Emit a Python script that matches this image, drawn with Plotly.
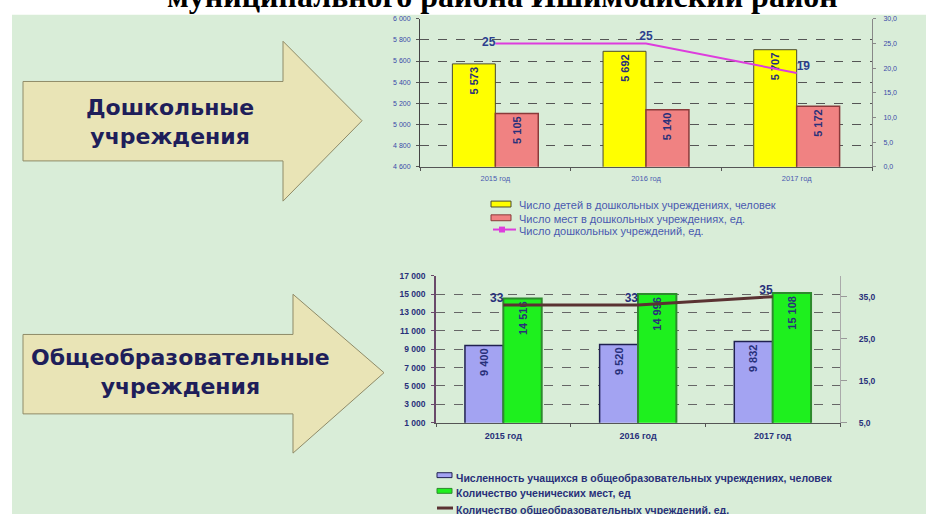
import plotly.graph_objects as go

W, H = 926, 514

years = ["2015 год", "2016 год", "2017 год"]
preschool_children = [5573, 5692, 5707]
preschool_places = [5105, 5140, 5172]
preschool_count = [25, 25, 19]
school_students = [9400, 9520, 9832]
school_places = [14516, 14996, 15108]
school_count = [33, 33, 35]

legend_top = [
    "Число детей в дошкольных учреждениях, человек",
    "Число мест в дошкольных учреждениях, ед.",
    "Число дошкольных учреждений, ед.",
]
legend_bottom = [
    "Численность учащихся в общеобразовательных учреждениях, человек",
    "Количество ученических мест, ед",
    "Количество общеобразовательных учреждений, ед.",
]

C_BG = "#d9edd8"
C_YELLOW = "#ffff00"
C_RED = "#f08282"
C_MAGENTA = "#dd3ddd"
C_BLUE = "#a3a3f2"
C_GREEN = "#1ef01e"
C_DARKLINE = "#5a3232"
C_LABEL = "#28307a"


def px(x):
    return x / W


def py(y):
    return 1 - y / H


fig = go.Figure()

bar_text_font = dict(family="Liberation Sans", size=11, color=C_LABEL, weight="bold")

# --- top chart (preschool) ---
fig.add_bar(x=years, y=preschool_children, xaxis="x", yaxis="y",
            marker=dict(color=C_YELLOW, line=dict(color="#4a4a30", width=1)),
            texttemplate="%{y:,}", textposition="inside", insidetextanchor="end",
            textangle=-90, textfont=bar_text_font, constraintext="none")
fig.add_bar(x=years, y=preschool_places, xaxis="x", yaxis="y",
            marker=dict(color=C_RED, line=dict(color="#8a3a3a", width=1.5)),
            texttemplate="%{y:,}", textposition="inside", insidetextanchor="end",
            textangle=-90, textfont=bar_text_font, constraintext="none")
fig.add_scatter(x=years, y=preschool_count, xaxis="x", yaxis="y2",
                mode="lines+text", line=dict(color=C_MAGENTA, width=2),
                text=[str(v) for v in preschool_count], texttemplate="%{text}",
                textposition=["middle left", "top center", "top right"],
                textfont=dict(family="Liberation Sans", size=12, color="#2b3f8f", weight="bold"))

# --- bottom chart (schools) ---
fig.add_bar(x=years, y=school_students, xaxis="x2", yaxis="y3",
            marker=dict(color=C_BLUE, line=dict(color="#202050", width=1.5)),
            texttemplate="%{y:,}", textposition="inside", insidetextanchor="end",
            textangle=-90, textfont=bar_text_font, constraintext="none")
fig.add_bar(x=years, y=school_places, xaxis="x2", yaxis="y3",
            marker=dict(color=C_GREEN, line=dict(color="#2e8a2e", width=2)),
            texttemplate="%{y:,}", textposition="inside", insidetextanchor="end",
            textangle=-90, textfont=bar_text_font, constraintext="none")
fig.add_scatter(x=years, y=school_count, xaxis="x2", yaxis="y4",
                mode="lines+text", line=dict(color=C_DARKLINE, width=3),
                text=[str(v) for v in school_count], texttemplate="%{text}",
                textposition="top left",
                textfont=dict(family="Liberation Sans", size=12, color=C_LABEL, weight="bold"))

small_tick = dict(family="Liberation Sans", size=7, color="#3a4aa8")
bold_tick = dict(family="Liberation Sans", size=8.5, color=C_LABEL, weight="bold")

shapes = []
annotations = []

# white page edges (top strip and left strip) over the mint slide background
shapes.append(dict(type="rect", xref="paper", yref="paper", x0=-0.02, x1=1.02, y0=py(10), y1=1.02,
                   fillcolor="white", line=dict(width=0), layer="below"))
shapes.append(dict(type="rect", xref="paper", yref="paper", x0=-0.02, x1=px(12), y0=-0.02, y1=1.02,
                   fillcolor="white", line=dict(width=0), layer="below"))


def arrow(pts):
    d = "M " + " L ".join(f"{px(a):.5f},{py(b):.5f}" for a, b in pts) + " Z"
    return dict(type="path", xref="paper", yref="paper", path=d,
                fillcolor="#e9e4b6", line=dict(color="#8f8b68", width=1), layer="above")


shapes.append(arrow([(23, 78), (283, 78), (283, 37), (362, 118), (283, 200), (283, 159), (23, 159)]))
shapes.append(arrow([(23, 336), (293, 336), (293, 295), (384, 375), (293, 457), (293, 417), (23, 417)]))

arrow_font = dict(family="DejaVu Sans", size=22, color="#1e1e5a", weight="bold")
annotations.append(dict(xref="paper", yref="paper", x=px(170), y=py(119), xanchor="center", yanchor="middle",
                        text="Дошкольные<br>учреждения",
                        showarrow=False, font=arrow_font, align="center"))
annotations.append(dict(xref="paper", yref="paper", x=px(180), y=py(374), xanchor="center", yanchor="middle",
                        text="Общеобразовательные<br>учреждения",
                        showarrow=False, font=arrow_font, align="center"))

# title (clipped at top)
annotations.append(dict(xref="paper", yref="paper", x=px(502), y=py(-9), xanchor="center", yanchor="middle",
                        text="муниципального района Ишимбайский район", showarrow=False,
                        font=dict(family="Liberation Serif", size=32, color="black", weight="bold")))

# manual legends
leg_font_top = dict(family="Liberation Sans", size=11, color="#4a5ab0")
leg_font_bot = dict(family="Liberation Sans", size=10.5, color=C_LABEL, weight="bold")

shapes.append(dict(type="rect", xref="paper", yref="paper", x0=px(491), x1=px(511), y0=py(206), y1=py(200),
                   fillcolor=C_YELLOW, line=dict(color="#4a4a30", width=1)))
shapes.append(dict(type="rect", xref="paper", yref="paper", x0=px(491), x1=px(511), y0=py(220), y1=py(214),
                   fillcolor=C_RED, line=dict(color="#8a3a3a", width=1)))
shapes.append(dict(type="line", xref="paper", yref="paper", x0=px(493), x1=px(516), y0=py(229), y1=py(229),
                   line=dict(color=C_MAGENTA, width=2)))
shapes.append(dict(type="rect", xref="paper", yref="paper", x0=px(499), x1=px(505), y0=py(232), y1=py(226),
                   fillcolor=C_MAGENTA, line=dict(width=0)))
for txt, yy in zip(legend_top, [204, 218, 230]):
    annotations.append(dict(xref="paper", yref="paper", x=px(517), y=py(yy), xanchor="left", yanchor="middle",
                            text=txt, showarrow=False, font=leg_font_top))

shapes.append(dict(type="rect", xref="paper", yref="paper", x0=px(437), x1=px(452), y0=py(482), y1=py(477),
                   fillcolor=C_BLUE, line=dict(color="#202050", width=1)))
shapes.append(dict(type="rect", xref="paper", yref="paper", x0=px(437), x1=px(452), y0=py(498), y1=py(493),
                   fillcolor=C_GREEN, line=dict(color="#2e8a2e", width=1)))
shapes.append(dict(type="line", xref="paper", yref="paper", x0=px(437), x1=px(453), y0=py(513), y1=py(513),
                   line=dict(color=C_DARKLINE, width=3)))
for txt, yy in zip(legend_bottom, [482, 498, 515]):
    annotations.append(dict(xref="paper", yref="paper", x=px(454), y=py(yy), xanchor="left", yanchor="middle",
                            text=txt, showarrow=False, font=leg_font_bot))

fig.update_layout(
    width=W, height=H,
    margin=dict(l=0, r=0, t=0, b=0),
    paper_bgcolor=C_BG,
    plot_bgcolor="rgba(0,0,0,0)",
    separators=", ",
    showlegend=False,
    barmode="group",
    bargap=0.43,
    bargroupgap=0,
    shapes=shapes,
    annotations=annotations,
    xaxis=dict(domain=[px(420), px(872)], anchor="y", type="category",
               showline=True, linecolor="#555", ticks="outside", tickson="boundaries", ticklen=3,
               tickcolor="#555", tickfont=dict(family="Liberation Sans", size=7.5, color="#4a5ab0"),
               showgrid=False, ticklabelstandoff=4),
    yaxis=dict(domain=[py(165), py(14)], anchor="x", range=[4600, 6000], tick0=4600, dtick=200,
               tickformat=",d", showgrid=True, gridcolor="#555", griddash="dash", gridwidth=1,
               showline=True, linecolor="#444", ticks="outside", ticklen=3, tickcolor="#555",
               tickfont=small_tick, zeroline=False, ticklabelstandoff=4),
    yaxis2=dict(overlaying="y", side="right", anchor="x", range=[0, 30], tick0=0, dtick=5,
                tickformat=".1f", showgrid=False, showline=True, linecolor="#888", ticks="outside",
                ticklen=3, tickcolor="#888", tickfont=small_tick, zeroline=False, ticklabelstandoff=6),
    xaxis2=dict(domain=[px(436), px(840)], anchor="y3", type="category",
                showline=True, linecolor="#555", ticks="outside", tickson="boundaries", ticklen=3,
                tickcolor="#555", tickfont=dict(family="Liberation Sans", size=9, color=C_LABEL, weight="bold"),
                showgrid=False, ticklabelstandoff=4),
    yaxis3=dict(domain=[py(426), py(276)], anchor="x2", range=[1000, 17000], tick0=1000, dtick=2000,
                tickformat=",d", showgrid=True, gridcolor="#666", griddash="dash", gridwidth=1,
                showline=True, linecolor="#6a4a6a", linewidth=1.5, ticks="outside", ticklen=3,
                tickcolor="#6a4a6a", tickfont=bold_tick, zeroline=False, ticklabelstandoff=4),
    yaxis4=dict(overlaying="y3", side="right", anchor="x2", range=[5, 40], tickvals=[5, 15, 25, 35],
                tickformat=".1f", showgrid=False, showline=True, linecolor="#aaa", ticks="outside",
                ticklen=6, tickcolor="#999", tickfont=bold_tick, zeroline=False, ticklabelstandoff=10),
)

fig.write_html("out.html", config={"displayModeBar": False},
               post_script="document.body.style.margin='0px';document.body.style.overflow='hidden';"
                           "document.body.style.background='" + C_BG + "';")
